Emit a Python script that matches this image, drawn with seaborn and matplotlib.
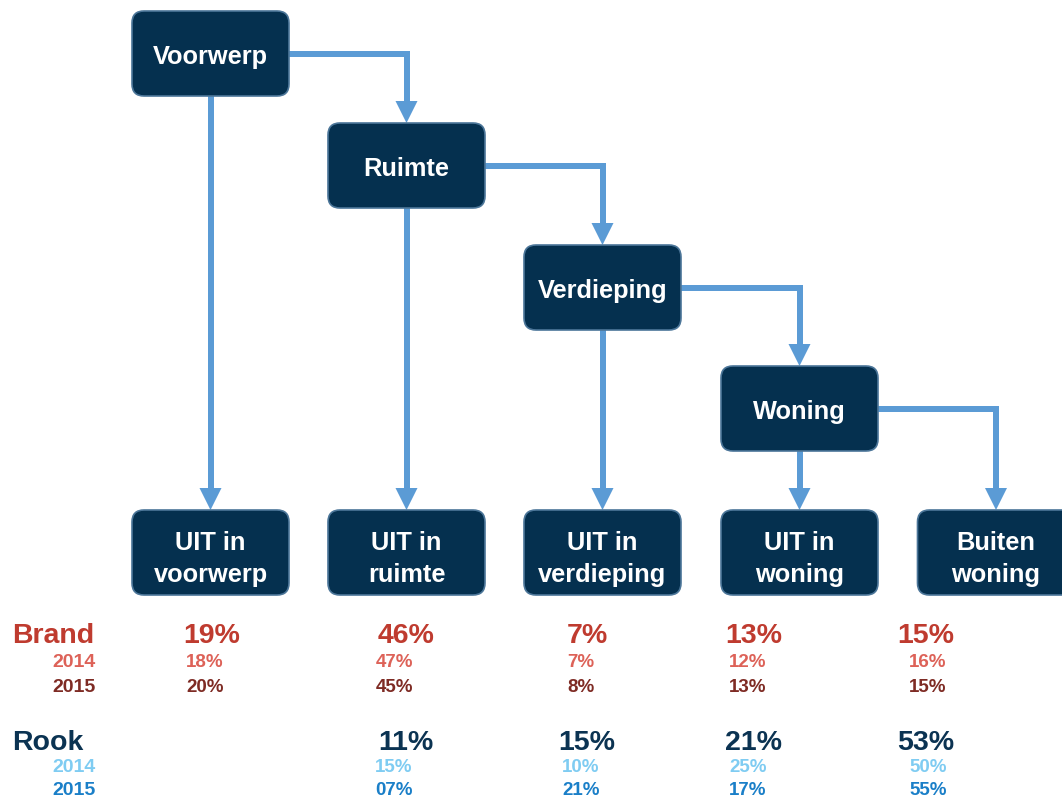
import matplotlib
matplotlib.use("Agg")
import matplotlib.pyplot as plt
from matplotlib.patches import FancyBboxPatch, Polygon
import seaborn as sns

# ---- data ----
levels = ["Voorwerp", "Ruimte", "Verdieping", "Woning"]
outcomes = ["UIT in\nvoorwerp", "UIT in\nruimte", "UIT in\nverdieping", "UIT in\nwoning", "Buiten\nwoning"]
brand_total = ["19%", "46%", "7%", "13%", "15%"]
brand_2014 = ["18%", "47%", "7%", "12%", "16%"]
brand_2015 = ["20%", "45%", "8%", "13%", "15%"]
rook_total = ["", "11%", "15%", "21%", "53%"]
rook_2014 = ["", "15%", "10%", "25%", "50%"]
rook_2015 = ["", "07%", "21%", "17%", "55%"]
row_labels = ["Brand", "Rook"]
year_labels = ["2014", "2015"]

# ---- style ----
sns.set_theme(style="white")
plt.rcParams["font.family"] = ["Liberation Sans", "DejaVu Sans"]

W, H = 1062, 798
fig = plt.figure(figsize=(W / 100, H / 100), dpi=100)
ax = fig.add_axes([0, 0, 1, 1])
ax.set_xlim(0, W)
ax.set_ylim(H, 0)
ax.axis("off")

BOX_FILL = "#05304F"
BOX_EDGE = "#4C7699"
ARROW = "#5B9BD5"
BW, BH = 157, 85
col_x = [210.5, 406.5, 602.5, 799.5, 996]
level_top = [11, 123, 245, 366]
out_top = 510
LW = 6 * 72 / 100  # ~6 px in points
HEAD_W, HEAD_L = 22, 22


def box(cx, top, text):
    p = FancyBboxPatch((cx - BW / 2 + 6, top + 6), BW - 12, BH - 12,
                       boxstyle="round,pad=6,rounding_size=12",
                       facecolor=BOX_FILL, edgecolor=BOX_EDGE, linewidth=1.2, zorder=3)
    ax.add_patch(p)
    lines = text.split("\n")
    baselines = [top + 53] if len(lines) == 1 else [top + 40, top + 72]
    for ln, b in zip(lines, baselines):
        ax.text(cx, b, ln, ha="center", va="baseline", color="white",
                fontsize=18.3, fontweight="bold", zorder=4)


def arrow_path(xs, ys):
    ex, ey = xs[-1], ys[-1]
    ys2 = list(ys[:-1]) + [ey - HEAD_L + 2]
    ax.plot(xs, ys2, color=ARROW, lw=LW, solid_capstyle="butt",
            solid_joinstyle="miter", zorder=2)
    ax.add_patch(Polygon([(ex - HEAD_W / 2, ey - HEAD_L), (ex + HEAD_W / 2, ey - HEAD_L), (ex, ey)],
                         closed=True, facecolor=ARROW, edgecolor="none", zorder=2))


for i in range(len(levels)):
    cx, top = col_x[i], level_top[i]
    mid_y = top + BH / 2
    nx = col_x[i + 1]
    target_top = level_top[i + 1] if i + 1 < len(levels) else out_top
    arrow_path([cx + BW / 2, nx, nx], [mid_y, mid_y, target_top])
    arrow_path([cx, cx], [top + BH, out_top])

for i, name in enumerate(levels):
    box(col_x[i], level_top[i], name)
for i, name in enumerate(outcomes):
    box(col_x[i], out_top, name)

# ---- numbers ----
big_x = [212, 406, 587, 754, 926]
small_x = [205, 394, 581, 748, 928]

brand_c = ["#BF3B2F", "#DD6258", "#7E2B24"]
rook_c = ["#0B3352", "#7FCCF2", "#1A7FC8"]

# baselines (pixels from top): total, 2014, 2015
rows = [
    (row_labels[0], (643, 667, 691.5), brand_c, brand_total, brand_2014, brand_2015),
    (row_labels[1], (750.5, 772, 795), rook_c, rook_total, rook_2014, rook_2015),
]
for label, (b0, b1, b2), cols, tot, v14, v15 in rows:
    ax.text(12, b0, label, ha="left", va="baseline", color=cols[0],
            fontsize=20.5, fontweight="bold")
    ax.text(96, b1, year_labels[0], ha="right", va="baseline", color=cols[1],
            fontsize=14, fontweight="bold")
    ax.text(96, b2, year_labels[1], ha="right", va="baseline", color=cols[2],
            fontsize=14, fontweight="bold")
    for j in range(len(outcomes)):
        ax.text(big_x[j], b0, tot[j], ha="center", va="baseline", color=cols[0],
                fontsize=20.5, fontweight="bold")
        ax.text(small_x[j], b1, v14[j], ha="center", va="baseline", color=cols[1],
                fontsize=13.5, fontweight="bold")
        ax.text(small_x[j], b2, v15[j], ha="center", va="baseline", color=cols[2],
                fontsize=13.5, fontweight="bold")

fig.savefig("out.png", dpi=100, facecolor="white")
